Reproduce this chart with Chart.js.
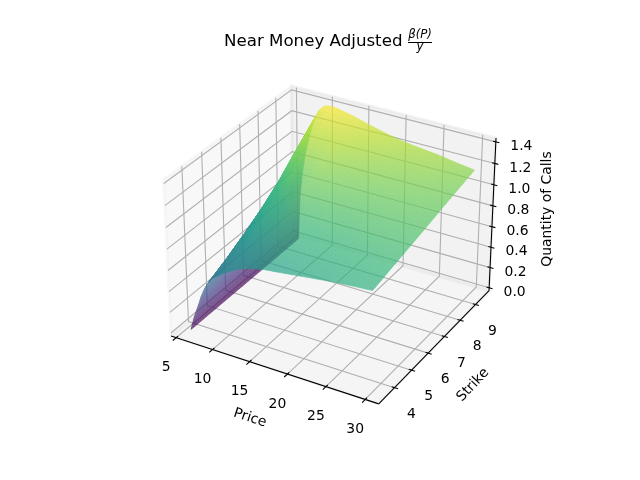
<!DOCTYPE html>
<html>
<head>
<meta charset="utf-8">
<title>Near Money Adjusted</title>
<style>
  html, body { margin: 0; padding: 0; background: #fff; }
  canvas { display: block; }
</style>
<script src="https://cdn.jsdelivr.net/npm/chart.js@4/dist/chart.umd.js"></script>
</head>
<body>
<canvas id="surfaceChart" width="640" height="480"></canvas>
<script>
// values
const priceTicks = [5, 10, 15, 20, 25, 30];
const strikeTicks = [4, 5, 6, 7, 8, 9];
const quantityTicks = [0, 0.2, 0.4, 0.6, 0.8, 1.0, 1.2, 1.4];

const prices = [5.9, 6.2, 6.5, 7, 7.5, 8, 8.5, 9, 9.5, 10, 11, 12.5, 14, 16, 18, 20, 22.5, 25, 27.5, 29.8];
const strikes = [3.54, 4.51, 5.48, 6.45, 7.42, 8.39, 9.56];

const callsRow1 = [0, 0.08, 0.15, 0.25, 0.355, 0.44, 0.505, 0.555, 0.585, 0.61, 0.66, 0.72, 0.76, 0.794, 0.81, 0.828, 0.85, 0.872, 0.888, 0.90];
const callsRow2 = [0, 0.121, 0.205, 0.319, 0.429, 0.52, 0.589, 0.64, 0.671, 0.696, 0.756, 0.805, 0.854, 0.877, 0.884, 0.895, 0.905, 0.916, 0.928, 0.94];
const callsRow3 = [0, 0.169, 0.27, 0.401, 0.517, 0.615, 0.687, 0.741, 0.773, 0.797, 0.858, 0.897, 0.949, 0.959, 0.959, 0.961, 0.965, 0.97, 0.974, 0.979];
const callsRow4 = [0, 0.221, 0.34, 0.489, 0.612, 0.717, 0.794, 0.85, 0.883, 0.906, 0.969, 0.995, 1.043, 1.042, 1.033, 1.028, 1.025, 1.024, 1.02, 1.019];
const callsRow5 = [0, 0.284, 0.425, 0.597, 0.726, 0.842, 0.923, 0.981, 1.017, 1.039, 1.101, 1.113, 1.144, 1.129, 1.112, 1.099, 1.089, 1.082, 1.069, 1.061];
const callsRow6 = [0, 0.361, 0.53, 0.729, 0.868, 0.995, 1.083, 1.144, 1.182, 1.203, 1.241, 1.237, 1.238, 1.212, 1.187, 1.166, 1.149, 1.136, 1.115, 1.10];
const callsRow7 = [0, 0.45, 0.65, 0.88, 1.03, 1.17, 1.265, 1.33, 1.37, 1.39, 1.395, 1.375, 1.35, 1.31, 1.275, 1.245, 1.22, 1.2, 1.17, 1.147];
const quantity = [callsRow1, callsRow2, callsRow3, callsRow4, callsRow5, callsRow6, callsRow7];

const xLim = [4.3, 31.7];
const yLim = [3.1, 9.9];
const zLim = [-0.03, 1.435];

// same camera as a default mplot3d axes: elev 30, azim -60, dist 10
const box = [1.1905, 1.1905, 0.8929];
function project(x, y, z) {
    const a = ((x - xLim[0]) / (xLim[1] - xLim[0]) - 0.5) * box[0];
    const b = ((y - yLim[0]) / (yLim[1] - yLim[0]) - 0.5) * box[1];
    const c = ((z - zLim[0]) / (zLim[1] - zLim[0]) - 0.5) * box[2];
    const u = 0.8660254 * a + 0.5 * b;
    const v = -0.25 * a + 0.4330127 * b + 0.8660254 * c;
    const w = 0.4330127 * a - 0.75 * b + 0.5 * c;
    return { x: u / (10 - w), y: v / (10 - w), depth: w };
}

const viridis = [[68, 1, 84], [72, 40, 120], [62, 73, 137], [49, 104, 142], [38, 130, 142],
    [31, 158, 137], [53, 183, 121], [110, 206, 88], [181, 222, 43], [253, 231, 37]];
function viridisColor(t) {
    const pos = Math.min(Math.max(t, 0), 1) * (viridis.length - 1);
    const i = Math.min(Math.floor(pos), viridis.length - 2);
    const f = pos - i;
    const rgb = viridis[i].map((c, k) => Math.round(c + (viridis[i + 1][k] - c) * f));
    return 'rgb(' + rgb[0] + ',' + rgb[1] + ',' + rgb[2] + ')';
}

function line3d(points, color, width) {
    return {
        data: points.map(p => project(p[0], p[1], p[2])),
        showLine: true,
        borderColor: color,
        borderWidth: width,
        pointRadius: 0,
        fill: false
    };
}
function pane3d(points, color) {
    const ds = line3d(points.concat([points[0]]), color, 3);
    ds.fill = 'shape';
    ds.backgroundColor = color;
    return ds;
}

const [x0, x1] = xLim, [y0, y1] = yLim, [z0, z1] = zLim;
const datasets = [
    pane3d([[x0, y0, z0], [x0, y1, z0], [x0, y1, z1], [x0, y0, z1]], 'rgba(242,242,242,0.5)'),
    pane3d([[x0, y1, z0], [x1, y1, z0], [x1, y1, z1], [x0, y1, z1]], 'rgba(230,230,230,0.5)'),
    pane3d([[x0, y0, z0], [x1, y0, z0], [x1, y1, z0], [x0, y1, z0]], 'rgba(236,236,236,0.5)')
];
const gridColor = '#b0b0b0';
priceTicks.forEach(t => datasets.push(line3d([[t, y0, z0], [t, y1, z0], [t, y1, z1]], gridColor, 1.1)));
strikeTicks.forEach(t => datasets.push(line3d([[x1, t, z0], [x0, t, z0], [x0, t, z1]], gridColor, 1.1)));
quantityTicks.forEach(t => datasets.push(line3d([[x0, y0, t], [x0, y1, t], [x1, y1, t]], gridColor, 1.1)));

// axis lines and tick marks
datasets.push(line3d([[x0, y0, z0], [x1, y0, z0]], '#000', 1.1));
datasets.push(line3d([[x1, y0, z0], [x1, y1, z0]], '#000', 1.1));
datasets.push(line3d([[x1, y1, z0], [x1, y1, z1]], '#000', 1.1));
priceTicks.forEach(t => datasets.push(line3d([[t, y0 - 0.17, z0], [t, y0 + 0.1, z0]], '#000', 1.1)));
strikeTicks.forEach(t => datasets.push(line3d([[x1 + 0.45, t, z0], [x1 - 0.35, t, z0]], '#000', 1.1)));
quantityTicks.forEach(t => datasets.push(line3d([[x1 + 0.45, y1, t], [x1 - 0.35, y1, t]], '#000', 1.1)));
// chart.js paints the first dataset last, the panes have to stay at the back
datasets.reverse();

const surfacePlugin = {
    id: 'surface',
    afterDatasetsDraw(chart) {
        const ctx = chart.ctx;
        const sx = chart.scales.x, sy = chart.scales.y;
        const steps = 6;
        const zMax = 1.404;
        // the sheet folds: the wall seen from behind and the top go to separate layers
        const layers = [document.createElement('canvas'), document.createElement('canvas')];
        const layerCtx = layers.map(c => {
            c.width = chart.width;
            c.height = chart.height;
            return c.getContext('2d');
        });
        const cells = [];
        for (let j = 0; j < strikes.length - 1; j++) {
            for (let i = 0; i < prices.length - 1; i++) {
                // fine facets inside one read-off cell, for a smooth colour ramp
                for (let m = 0; m < steps; m++) {
                    for (let n = 0; n < steps; n++) {
                        const corner = (fi, fj) => {
                            const z = (quantity[j][i] * (1 - fi) + quantity[j][i + 1] * fi) * (1 - fj)
                                + (quantity[j + 1][i] * (1 - fi) + quantity[j + 1][i + 1] * fi) * fj;
                            const x = prices[i] + (prices[i + 1] - prices[i]) * fi;
                            const y = strikes[j] + (strikes[j + 1] - strikes[j]) * fj;
                            return { z, p: project(x, y, z) };
                        };
                        const q = [corner(n / steps, m / steps), corner((n + 1) / steps, m / steps),
                            corner((n + 1) / steps, (m + 1) / steps), corner(n / steps, (m + 1) / steps)];
                        const pts = q.map(c => [sx.getPixelForValue(c.p.x), sy.getPixelForValue(c.p.y)]);
                        let area = 0;
                        pts.forEach((p, k) => {
                            const r = pts[(k + 1) % 4];
                            area += p[0] * r[1] - r[0] * p[1];
                        });
                        cells.push({
                            pts: pts,
                            layer: area < 0 ? 1 : 0,
                            depth: q.reduce((s, c) => s + c.p.depth, 0) / 4,
                            z: q.reduce((s, c) => s + c.z, 0) / 4
                        });
                    }
                }
            }
        }
        cells.sort((a, b) => a.depth - b.depth);
        cells.forEach(cell => {
            const c = layerCtx[cell.layer];
            c.beginPath();
            cell.pts.forEach((p, k) => k ? c.lineTo(p[0], p[1]) : c.moveTo(p[0], p[1]));
            c.closePath();
            c.fillStyle = c.strokeStyle = viridisColor(cell.z / zMax);
            c.lineWidth = 0.6;
            c.fill();
            c.stroke();
        });
        ctx.save();
        ctx.globalAlpha = 0.7;
        ctx.drawImage(layers[0], 0, 0);
        ctx.drawImage(layers[1], 0, 0);
        ctx.restore();
    },
    afterDraw(chart) {
        const ctx = chart.ctx;
        const sx = chart.scales.x, sy = chart.scales.y;
        const at = (x, y, z) => {
            const p = project(x, y, z);
            return [sx.getPixelForValue(p.x), sy.getPixelForValue(p.y)];
        };
        ctx.save();
        ctx.fillStyle = '#000';
        ctx.font = '13.9px "DejaVu Sans"';
        ctx.textAlign = 'center';
        ctx.textBaseline = 'middle';
        priceTicks.forEach(t => {
            const p = at(t, y0, z0);
            ctx.fillText(String(t), p[0] - 10, p[1] + 30);
        });
        strikeTicks.forEach(t => {
            const p = at(x1, t, z0);
            ctx.fillText(String(t), p[0] + 17, p[1] + 26.5);
        });
        quantityTicks.forEach(t => {
            const p = at(x1, y1, t);
            ctx.fillText(t.toFixed(1), p[0] + 25.5, p[1] + 4.5);
        });

        const rotated = (text, x, y, angle) => {
            ctx.save();
            ctx.translate(x, y);
            ctx.rotate(angle);
            ctx.fillText(text, 0, 0);
            ctx.restore();
        };
        rotated('Price', 250, 418, 18 * Math.PI / 180);
        rotated('Strike', 473, 385, -47 * Math.PI / 180);
        rotated('Quantity of Calls', 547, 209, -Math.PI / 2);

        // title with its fraction
        ctx.textBaseline = 'alphabetic';
        ctx.textAlign = 'left';
        ctx.font = '16.67px "DejaVu Sans"';
        ctx.fillText('Near Money Adjusted', 224, 46);
        ctx.textAlign = 'center';
        ctx.font = 'italic 11.7px "DejaVu Sans"';
        ctx.fillText('\u03b2(P)', 420, 37.5);
        ctx.fillText('y', 420, 50);
        ctx.fillRect(408, 42, 24, 1);
        ctx.restore();
    }
};

new Chart(document.getElementById('surfaceChart'), {
    type: 'scatter',
    data: { datasets: datasets },
    options: {
        responsive: false,
        animation: false,
        layout: { padding: { left: 143.2, right: 127.2, top: 57.6, bottom: 52.8 } },
        plugins: {
            legend: { display: false },
            title: { display: false },
            tooltip: { enabled: false }
        },
        scales: {
            x: { type: 'linear', min: -0.095, max: 0.09, display: false },
            y: { type: 'linear', min: -0.095, max: 0.09, display: false }
        }
    },
    plugins: [surfacePlugin]
});
</script>
</body>
</html>
